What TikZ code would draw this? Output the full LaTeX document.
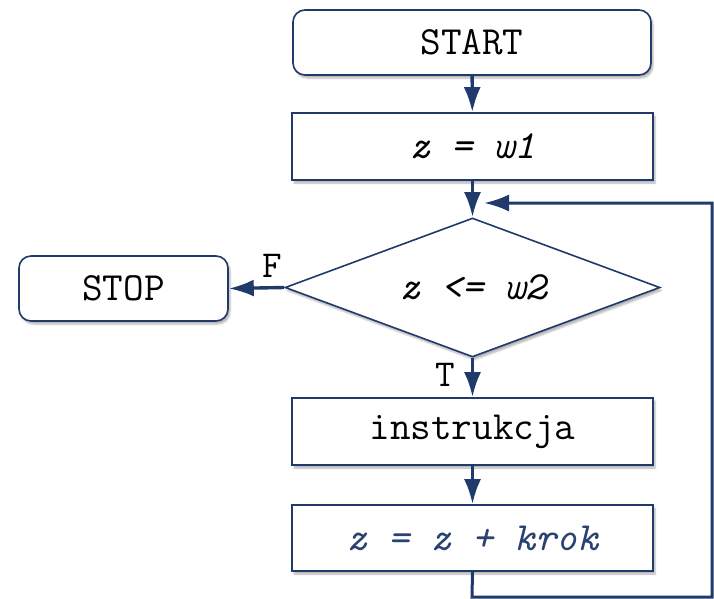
\documentclass[tikz,border=0pt]{standalone}
\usepackage{fontspec}
\usetikzlibrary{arrows.meta,shapes.geometric,shadows.blur}
\definecolor{lineblue}{HTML}{1F3A6B}
\definecolor{textblue}{HTML}{2A4272}
\begin{document}
\begin{tikzpicture}[x=1pt,y=-1pt,
  base/.style={draw=lineblue,line width=1.6pt,fill=white,inner sep=0pt,
    font=\ttfamily\fontsize{40}{44}\selectfont,
    blur shadow={shadow xshift=2pt,shadow yshift=-3pt,shadow blur steps=6,shadow opacity=30}},
  term/.style={base,rounded corners=12pt},
  proc/.style={base},
  dec/.style={base,diamond,aspect=2.7},
  conn/.style={draw=lineblue,line width=3.4pt,-{Latex[length=25pt,width=17pt]}},
  lbl/.style={font=\ttfamily\fontsize{38}{42}\selectfont,inner sep=0pt}]
\useasboundingbox (0,0) rectangle (714,599);
\node[term,minimum width=358pt,minimum height=65pt] (start) at (472,42.5) {START};
\node[proc,minimum width=361pt,minimum height=67pt] (init) at (472.5,146.5) {\itshape z = w1};
\node[dec,minimum width=375pt,minimum height=139pt] (cond) at (472.5,287.5) {\itshape z <= w2};
\node[term,minimum width=209pt,minimum height=65pt] (stop) at (123.5,288.5) {STOP};
\node[proc,minimum width=361pt,minimum height=67pt] (body) at (472.5,431.5) {instrukcja};
\node[proc,minimum width=361pt,minimum height=66pt] (step1) at (472.5,538) {\color{textblue}\itshape z = z + krok};
\coordinate (lb) at (472,597);
\coordinate (rb) at (712,597);
\coordinate (rt) at (712,203);
\coordinate (lt) at (484,203);
\draw[conn] (start) -- (init);
\draw[conn] (init) -- (cond);
\draw[conn] (cond.west) -- (stop.east);
\draw[conn] (cond) -- (body);
\draw[conn] (body) -- (step1);
\draw[conn,line width=3pt] (step1.south) -- (lb) -- (rb) -- (rt) -- (lt);
\node[lbl] (fl) at (272,266) {F};
\node[lbl] (tl) at (445,375) {T};
\end{tikzpicture}
\end{document}
